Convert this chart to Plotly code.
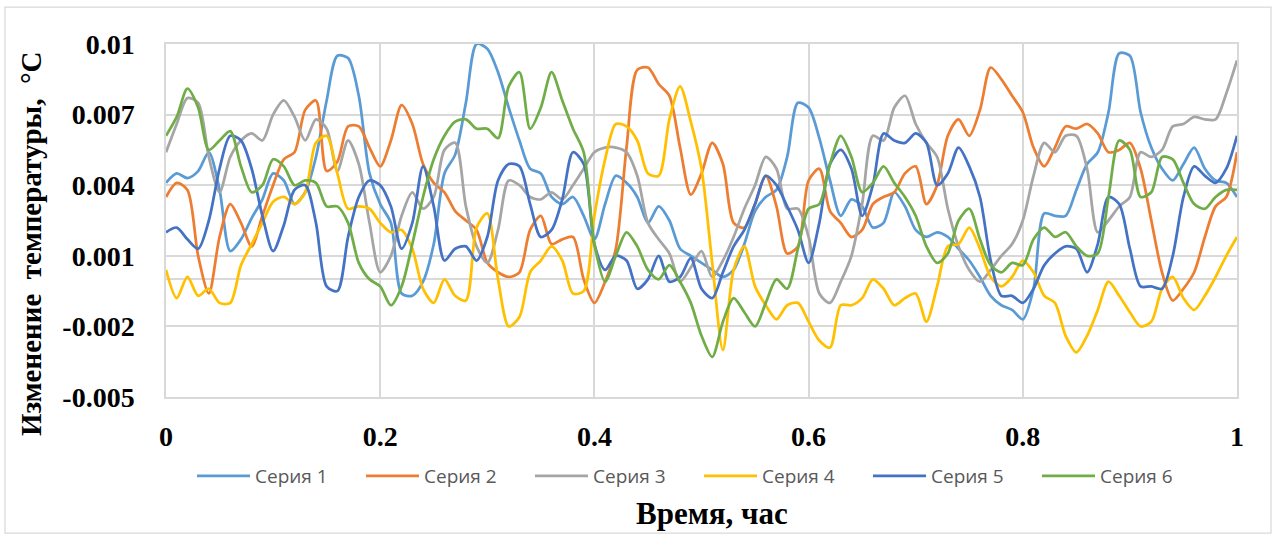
import plotly.graph_objects as go

# Time axis, hours
time_h = [round(i * 0.01, 2) for i in range(101)]

# Temperature change, in units of 0.001 °C
series_1 = [4.1, 4.5, 4.3, 4.6, 5.4, 3.8, 1.2, 1.7, 2.6, 3.4,
            4.5, 4.2, 3.2, 3.7, 5.2, 7.6, 9.5, 9.4, 7.8, 4.5,
            3.2, 2.4, -0.6, -0.7, -0.1, 1.5, 4.5, 5.3, 7.5, 10.0,
            9.8, 8.8, 7.3, 5.9, 4.7, 4.5, 3.5, 3.2, 3.5, 2.7,
            1.7, 3.2, 4.4, 4.1, 3.5, 2.4, 3.1, 2.5, 1.3, 1.0,
            0.7, 0.4, 0.1, 0.4, 1.5, 2.9, 3.5, 3.8, 5.2, 7.5,
            7.3, 6.0, 4.2, 2.7, 3.4, 3.1, 2.2, 2.4, 3.7, 3.1,
            2.1, 1.8, 2.0, 1.8, 1.3, 0.8, 0.1, -0.7, -1.1, -1.3,
            -1.7, -0.4, 2.8, 2.7, 2.7, 3.8, 4.9, 5.4, 7.1, 9.6,
            9.5, 7.1, 5.6, 4.7, 4.2, 4.9, 5.6, 4.7, 4.2, 4.1,
            3.5]
series_2 = [3.5, 4.1, 3.8, 1.0, -0.6, 1.8, 3.2, 2.4, 1.4, 2.7,
            4.0, 5.1, 5.4, 7.2, 7.6, 4.6, 5.0, 6.5, 6.5, 5.6,
            4.8, 5.9, 7.4, 6.6, 4.9, 4.1, 3.7, 2.9, 2.5, 2.1,
            0.7, 0.3, 0.1, 0.3, 2.1, 2.7, 1.5, 1.7, 1.8, 0.0,
            -1.0, -0.1, 1.3, 5.6, 8.9, 9.0, 8.3, 7.8, 5.6, 3.6,
            4.5, 5.8, 4.9, 2.4, 2.2, 3.2, 4.4, 3.1, 1.1, 1.4,
            4.2, 4.7, 2.9, 2.4, 1.8, 2.1, 3.2, 3.5, 3.7, 4.5,
            4.8, 3.2, 4.0, 6.1, 6.8, 6.1, 7.2, 9.0, 8.5, 7.8,
            7.1, 5.6, 4.8, 5.6, 6.5, 6.4, 6.6, 6.2, 5.4, 5.5,
            5.8, 4.7, 2.5, 0.3, -0.9, -0.4, 0.3, 1.8, 3.1, 3.5,
            5.4]
series_3 = [5.4, 6.6, 7.7, 7.5, 5.2, 3.7, 5.2, 5.9, 6.2, 5.9,
            7.0, 7.6, 6.9, 5.9, 6.8, 6.4, 4.6, 5.9, 4.9, 2.4,
            0.3, 1.0, 2.7, 3.7, 3.0, 3.5, 5.5, 5.8, 3.1, 1.4,
            0.7, 2.1, 4.2, 4.0, 3.5, 3.4, 3.7, 3.4, 4.0, 4.7,
            5.4, 5.6, 5.6, 5.4, 4.4, 2.4, 1.7, 1.1, -0.1, 0.5,
            1.2, 0.1, 0.8, 1.8, 3.0, 4.0, 5.2, 4.7, 3.0, 3.0,
            1.8, -0.6, -1.0, -0.1, 1.0, 3.2, 6.1, 5.9, 7.3, 7.8,
            6.6, 5.8, 5.2, 3.0, 1.4, 0.4, -0.1, 0.4, 1.0, 1.5,
            2.5, 4.4, 5.8, 5.4, 6.1, 6.1, 4.7, 2.0, 2.5, 3.1,
            3.5, 5.4, 5.2, 5.5, 6.5, 6.6, 6.9, 6.8, 6.8, 7.9,
            9.3]
series_4 = [0.4, -0.8, 0.1, -0.7, -0.4, -1.0, -1.0, 0.6, 1.5, 2.4,
            3.3, 3.5, 3.2, 3.7, 5.8, 6.1, 4.5, 3.0, 3.1, 3.0,
            2.4, 2.0, 2.1, 1.3, -0.4, -1.0, 0.0, -0.7, -0.9, 2.2,
            2.8, 0.0, -2.0, -1.6, 0.3, 0.8, 1.4, 0.8, -0.6, -0.5,
            2.7, 5.1, 6.6, 6.5, 5.9, 4.5, 4.4, 6.8, 8.2, 6.7,
            4.7, 0.7, -3.0, 0.4, 1.4, -0.3, -1.1, -1.7, -1.1, -1.0,
            -1.8, -2.6, -2.9, -1.1, -1.1, -0.8, 0.0, -0.4, -1.1, -0.8,
            -0.6, -1.8, -0.3, 1.4, 1.5, 2.2, 1.3, 0.1, -0.3, 0.1,
            0.8, 0.3, -0.7, -1.0, -2.4, -3.1, -2.4, -1.3, -0.1, -0.7,
            -1.4, -2.0, -1.8, -0.4, 0.1, -0.8, -1.3, -0.7, 0.1, 1.0,
            1.8]
series_5 = [2.0, 2.2, 1.7, 1.3, 2.5, 4.7, 6.1, 5.9, 4.7, 2.7,
            1.2, 2.3, 3.8, 4.0, 2.4, -0.3, -0.5, 1.8, 3.5, 4.2,
            4.0, 3.1, 1.3, 2.4, 4.8, 3.1, 0.8, 1.3, 1.4, 0.8,
            1.8, 4.2, 4.9, 4.8, 3.2, 1.8, 2.1, 3.4, 5.4, 4.9,
            1.5, 0.4, 1.0, 0.8, -0.4, 0.0, 1.0, -0.1, 0.1, 0.9,
            -0.4, -0.8, 0.3, 1.4, 2.1, 3.2, 4.4, 4.0, 3.1, 2.1,
            0.7, 2.4, 4.9, 5.5, 4.7, 2.7, 4.0, 6.2, 5.9, 5.8,
            6.2, 5.8, 4.0, 4.5, 5.6, 4.8, 3.5, 0.8, -0.7, -0.7,
            -1.0, -0.4, 0.6, 1.1, 1.4, 1.3, 0.3, 1.5, 3.5, 3.2,
            1.3, -0.3, -0.3, -0.4, 1.0, 3.5, 4.8, 4.4, 4.1, 4.7,
            6.1]
series_6 = [6.1, 6.9, 8.1, 7.3, 5.5, 5.9, 6.3, 4.8, 3.7, 4.0,
            5.1, 4.8, 4.0, 4.2, 4.1, 3.1, 3.1, 2.4, 0.7, 0.0,
            -0.3, -1.1, -0.3, 1.5, 3.5, 5.1, 6.1, 6.7, 6.8, 6.4,
            6.4, 6.0, 8.2, 8.8, 6.4, 7.3, 8.8, 7.6, 6.4, 5.4,
            1.5, -0.1, 1.0, 2.0, 1.4, 0.4, 0.0, 0.6, -0.1, -1.0,
            -2.4, -3.3, -1.8, -0.8, -1.4, -2.0, -1.0, 0.0, -0.4, 1.3,
            3.0, 3.2, 4.9, 6.1, 5.2, 3.7, 4.1, 4.8, 4.1, 3.5,
            2.7, 1.4, 0.7, 1.1, 2.5, 3.0, 1.7, 0.6, 0.3, 0.7,
            0.6, 1.7, 2.2, 1.8, 2.0, 1.4, 1.0, 1.1, 3.5, 5.9,
            5.5, 3.5, 3.7, 5.2, 5.1, 4.1, 3.2, 3.0, 3.5, 3.8,
            3.8]

series_names = ["Серия 1", "Серия 2", "Серия 3", "Серия 4", "Серия 5", "Серия 6"]
series_colors = ["#5B9BD5", "#ED7D31", "#A5A5A5", "#FFC000", "#4472C4", "#70AD47"]
UNIT = 1e-3

y_tick_vals = [-0.005, -0.002, 0.001, 0.004, 0.007, 0.01]
y_tick_text = ["-0.005", "-0.002", "0.001", "0.004", "0.007", "0.01"]
x_tick_vals = [0, 0.2, 0.4, 0.6, 0.8, 1]
x_tick_text = ["0", "0.2", "0.4", "0.6", "0.8", "1"]

# Page geometry (px)
W, H = 1277, 538
ML, MR, MT, MB = 166, 40, 44, 141
PW, PH = W - ML - MR, H - MT - MB


def px_x(px):
    return (px - ML) / PW


def px_y(py):
    return (H - MB - py) / PH


fig = go.Figure()
for name, color, vals in zip(series_names, series_colors,
                             [series_1, series_2, series_3, series_4, series_5, series_6]):
    fig.add_trace(go.Scatter(
        x=time_h, y=[v * UNIT for v in vals], name=name, mode="lines",
        line=dict(color=color, width=2.75, shape="spline", smoothing=0.8),
    ))

tick_font = dict(family="Liberation Serif", size=28, color="#000000", weight="bold")
grid = "#D9D9D9"

fig.update_layout(
    width=W, height=H,
    margin=dict(l=ML, r=MR, t=MT, b=MB, pad=0),
    paper_bgcolor="#FFFFFF", plot_bgcolor="#FFFFFF",
    showlegend=True,
    legend=dict(
        orientation="h", x=px_x(699), xanchor="center", y=px_y(476), yanchor="middle",
        font=dict(family="Open Sans", size=19, color="#595959"),
        itemwidth=53, entrywidth=101, tracegroupgap=0,
        bgcolor="rgba(0,0,0,0)",
    ),
    xaxis=dict(
        range=[0, 1], tickmode="array", tickvals=x_tick_vals, ticktext=x_tick_text,
        showgrid=True, gridcolor=grid, gridwidth=1.5,
        showline=True, linecolor=grid, linewidth=1.5, mirror=True,
        zeroline=False, ticks="", ticklabelstandoff=14,
        tickfont=tick_font,
    ),
    yaxis=dict(
        range=[-0.005, 0.01], tickmode="array", tickvals=y_tick_vals, ticktext=y_tick_text,
        showgrid=True, gridcolor=grid, gridwidth=1.5,
        showline=True, linecolor=grid, linewidth=1.5, mirror=True,
        zeroline=True, zerolinecolor=grid, zerolinewidth=1.5,
        ticks="", ticklabelstandoff=24,
        tickfont=tick_font,
    ),
    annotations=[
        dict(text="<b>Изменение  температуры,  °С</b>", xref="paper", yref="paper",
             x=px_x(31), y=px_y(244), xanchor="center", yanchor="middle",
             textangle=-90, showarrow=False,
             font=dict(family="Liberation Serif", size=29, color="#000000")),
        dict(text="<b>Время, час</b>", xref="paper", yref="paper",
             x=px_x(712), y=px_y(513), xanchor="center", yanchor="middle",
             showarrow=False,
             font=dict(family="Liberation Serif", size=31, color="#000000")),
    ],
    shapes=[
        dict(type="rect", xref="paper", yref="paper", layer="below",
             x0=px_x(5), x1=px_x(1271), y0=px_y(533), y1=px_y(7),
             line=dict(color="#D9D9D9", width=1.25), fillcolor="rgba(0,0,0,0)"),
    ],
)

fig.write_html("out.html")
